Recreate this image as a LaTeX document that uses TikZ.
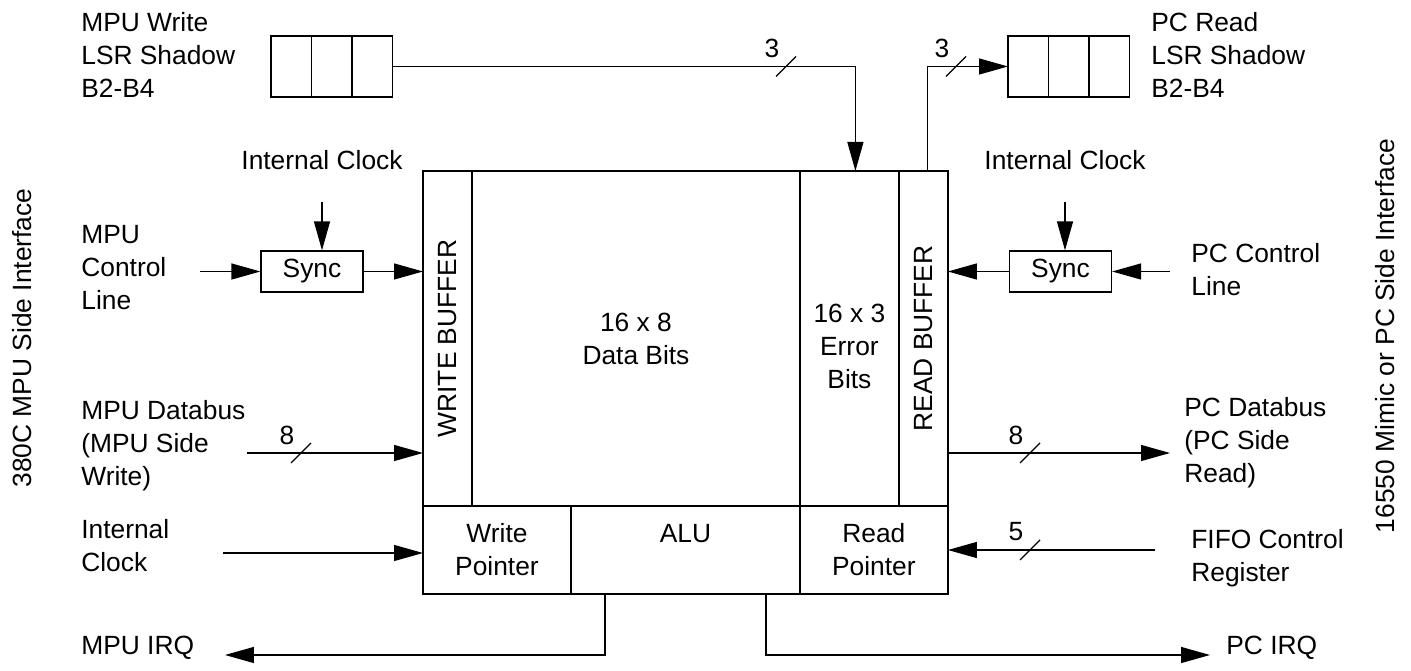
\documentclass[tikz,border=0pt]{standalone}
\usepackage{fontspec}
\setmainfont{Liberation Sans}
\usetikzlibrary{positioning,arrows.meta}

\begin{document}
\begin{tikzpicture}[
    x=0.02cm, y=-0.02cm,
    every node/.style={font=\fontsize{15}{18.8}\selectfont},
    txt/.style={inner sep=0pt, align=left, anchor=west},
    cell/.style={draw, line width=0.7pt, inner sep=0pt, outer sep=0pt, anchor=north west, align=center},
    reg/.style={draw, line width=0.7pt, inner sep=0pt, outer sep=0pt, anchor=north west, minimum width=0.81cm, minimum height=1.22cm},
    syncbox/.style={draw, line width=0.7pt, minimum width=2.04cm, minimum height=0.82cm},
    sig/.style={line width=0.7pt, -{Triangle[length=5.8mm,width=3.2mm]}},
    wire/.style={line width=0.7pt},
    pics/bus/.style={code={
        \draw[wire] (-10,10) -- (10,-10);
        \node at (-14,-18) {#1};
      }},
  ]
  \useasboundingbox (0,0) rectangle (1411,671);

  % side labels
  \node[rotate=90] (lside) at (22,338) {380C MPU Side Interface};
  \node[rotate=90] (rside) at (1385,336) {16550 Mimic or PC Side Interface};

  % fifo core
  \node[cell, minimum width=0.98cm, minimum height=6.7cm,
        label={[rotate=90]center:WRITE BUFFER}] (wbuf) at (423,171) {};
  \node[cell, minimum width=6.56cm, minimum height=6.7cm] (data) at (wbuf.north east) {16 x 8\\Data Bits};
  \node[cell, minimum width=1.98cm, minimum height=6.7cm,
        label={[align=center, yshift=-0.16cm]center:16 x 3\\Error\\Bits}] (err) at (data.north east) {};
  \node[cell, minimum width=0.98cm, minimum height=6.7cm,
        label={[rotate=90]center:READ BUFFER}] (rbuf) at (err.north east) {};
  \node[cell, minimum width=2.96cm, minimum height=1.76cm] (wptr) at (wbuf.south west) {Write\\Pointer};
  \node[cell, minimum width=4.58cm, minimum height=1.76cm] (alu) at (wptr.north east) {ALU\\\mbox{}};
  \node[cell, minimum width=2.96cm, minimum height=1.76cm] (rptr) at (alu.north east) {Read\\Pointer};
  \draw[line width=1.1pt] (wbuf.north west) rectangle (rptr.south east);

  % shadow registers
  \foreach \i/\xc in {1/271, 2/311.5, 3/352} {
    \node[reg] (wsh\i) at (\xc,36) {};
  }
  \foreach \i/\xc in {1/1008, 2/1048.5, 3/1089} {
    \node[reg] (rsh\i) at (\xc,36) {};
  }

  % texts
  \node[txt] (mpuwr) at (81,55) {MPU Write\\LSR Shadow\\B2-B4};
  \node[txt] (pcrd) at (1151,55) {PC Read\\LSR Shadow\\B2-B4};
  \node[inner sep=0pt] (clkl) at (322,160) {Internal Clock};
  \node[inner sep=0pt] (clkr) at (1065,160) {Internal Clock};
  \node[txt] (mpuctl) at (81,268) {MPU\\Control\\Line};
  \node[txt] (pcctl) at (1191,270) {PC Control\\Line};
  \node[txt] (mpudb) at (81,446) {MPU Databus\\(MPU Side\\Write)};
  \node[txt] (pcdb) at (1184,443) {PC Databus\\(PC Side\\Read)};
  \node[txt] (mpuclk) at (81,546) {Internal\\Clock};
  \node[txt] (fifo) at (1191,558) {FIFO Control\\Register};
  \node[txt] (mpuirq) at (81,648) {MPU IRQ};
  \node[txt] (pcirq) at (1226,648) {PC IRQ};

  \node[syncbox] (syncl) at (312,271.5) {Sync};
  \node[syncbox] (syncr) at (1060.5,271.5) {Sync};

  % free ends
  \coordinate (mpuctlin) at (200,271.5);
  \coordinate (pcctlin) at (1170,271.5);
  \coordinate (mpudbin) at (247,453);
  \coordinate (pcdbout) at (1170,453);
  \coordinate (mpuclkin) at (223,553);
  \coordinate (fifoin) at (1155,550);
  \coordinate (mpuirqout) at (225,655);
  \coordinate (pcirqout) at (1210,655);

  % connections
  \draw[sig] (mpuctlin) -- (syncl.west);
  \draw[sig] (syncl.east) -- (syncl.east -| wbuf.west);
  \draw[sig] ([yshift=-0.64cm]clkl.south) -- (clkl.south |- syncl.north);
  \draw[sig] ([yshift=-0.64cm]clkr.south) -- (clkr.south |- syncr.north);
  \draw[sig] (pcctlin) -- (syncr.east);
  \draw[sig] (syncr.west) -- (syncr.west -| rbuf.east);
  \draw[sig] (mpudbin) -- (mpudbin -| wbuf.west);
  \draw[sig] (pcdbout -| rbuf.east) -- (pcdbout);
  \draw[sig] (mpuclkin) -- (mpuclkin -| wptr.west);
  \draw[sig] (fifoin) -- (fifoin -| rptr.east);
  \draw[sig] ([xshift=-1.61cm]alu.south) |- (mpuirqout);
  \draw[sig] ([xshift=1.61cm]alu.south) |- (pcirqout);
  \draw[sig] (wsh3.east) -| ([xshift=0.12cm]err.north);
  \draw[sig] ([xshift=0.08cm]rbuf.north) |- (rsh1.west);

  % bus widths
  \pic at (786,66.5) {bus=3};
  \pic at (956,66.5) {bus=3};
  \pic at (301,453) {bus=8};
  \pic at (1030,453) {bus=8};
  \pic at (1030,550) {bus=5};
\end{tikzpicture}
\end{document}
